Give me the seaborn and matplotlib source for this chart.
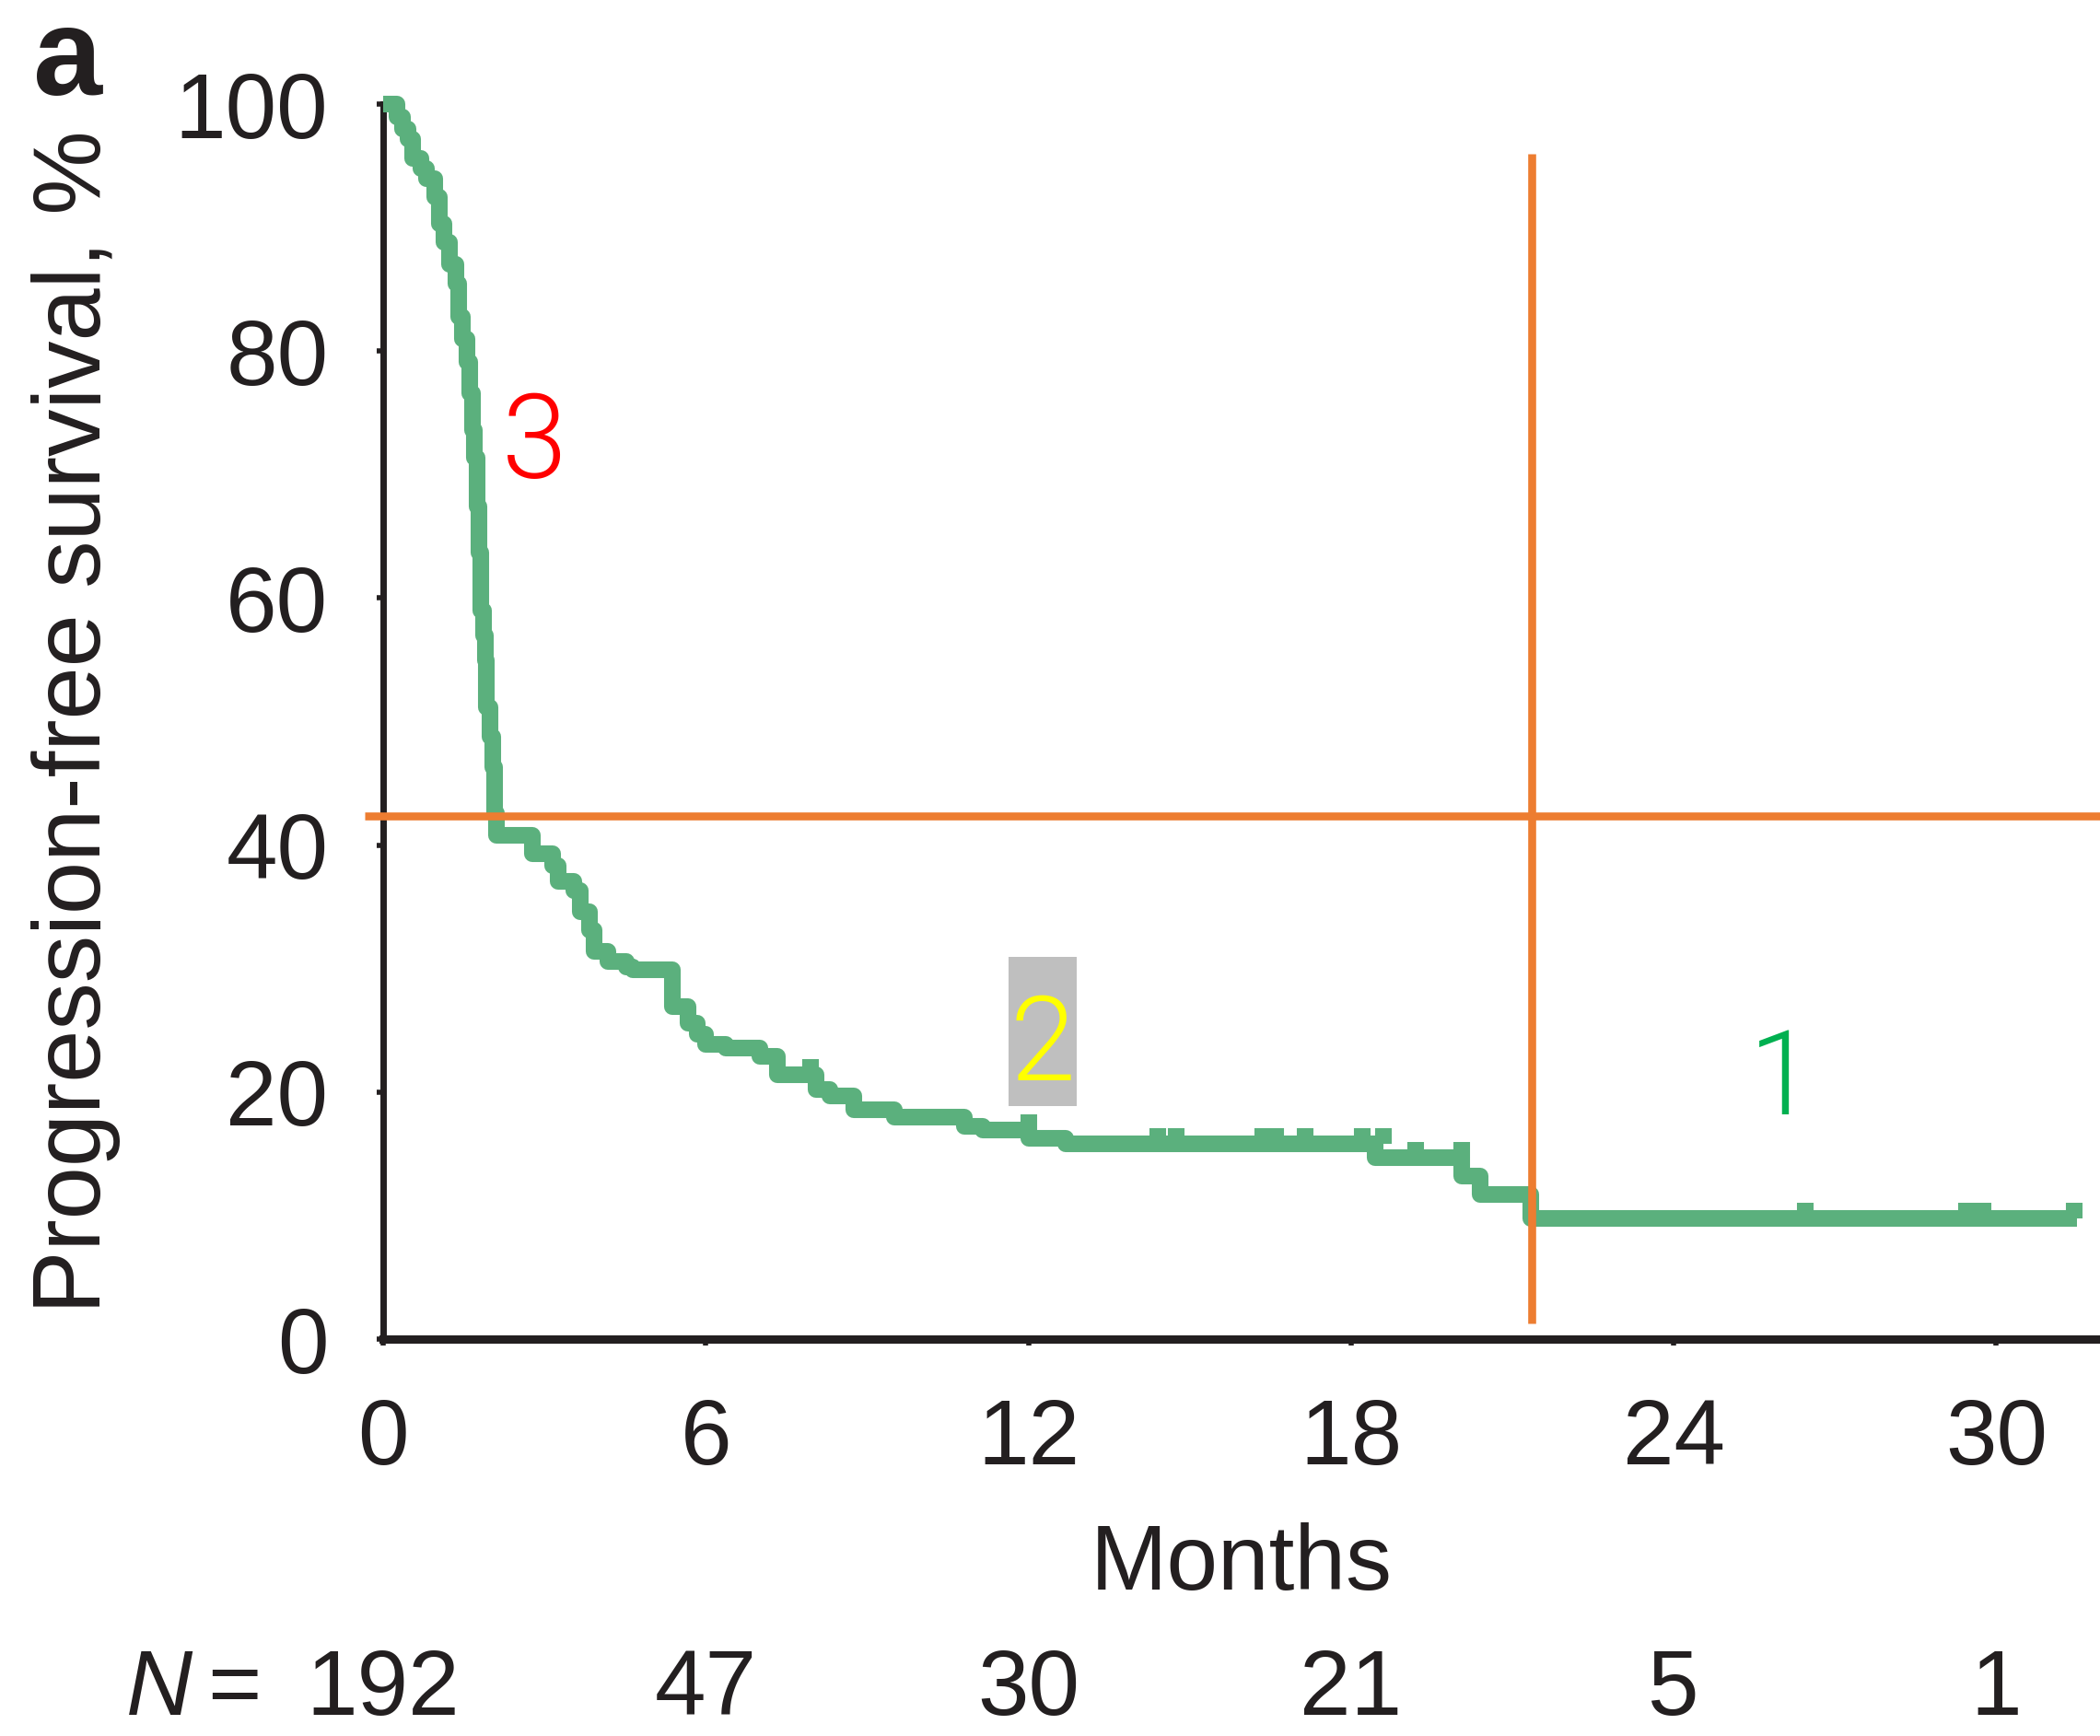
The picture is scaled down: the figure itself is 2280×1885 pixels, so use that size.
import matplotlib
matplotlib.use("Agg")
import matplotlib.pyplot as plt
from matplotlib.patches import Rectangle
from matplotlib import font_manager
import numpy as np
import pandas as pd
import seaborn as sns

# ---------------- data ----------------
months = [0, 0.25, 0.35, 0.46, 0.55, 0.70, 0.81, 0.96, 1.04, 1.13, 1.23, 1.35, 1.40,
          1.47, 1.56, 1.61, 1.66, 1.70, 1.75, 1.78, 1.81, 1.86, 1.90, 1.92, 1.99,
          2.04, 2.07, 2.10, 2.78, 3.15, 3.25, 3.55, 3.67, 3.84, 3.92, 4.18, 4.52,
          4.64, 5.38, 5.66, 5.84, 6.00, 6.37, 7.00, 7.33, 8.05, 8.30, 8.75, 9.50,
          10.80, 11.15, 12.00, 12.70, 18.45, 20.06, 20.40, 21.35, 31.50]
pfs = [100, 99, 98, 97.2, 95.6, 94.8, 94.0, 92.5, 90.3, 88.8, 87.0, 85.5, 82.8,
       81.0, 79.1, 76.6, 73.6, 71.4, 67.4, 63.7, 59.0, 57.0, 55.0, 51.2, 48.8,
       46.3, 42.6, 40.8, 39.3, 38.3, 37.1, 36.3, 34.6, 33.1, 31.4, 30.6, 30.1,
       29.9, 26.9, 25.6, 24.7, 23.9, 23.6, 22.9, 21.4, 20.2, 19.7, 18.6, 18.0,
       17.2, 16.9, 16.3, 15.8, 14.7, 13.2, 11.7, 9.8, 9.8]
censor_months = [7.95, 12.0, 14.4, 14.75, 16.35, 16.6, 17.15, 18.2, 18.6, 19.2,
                 20.05, 26.45, 29.45, 29.75, 31.45]
censor_pfs = [21.4, 16.9, 15.8, 15.8, 15.8, 15.8, 15.8, 15.8, 15.8, 14.7,
              14.7, 9.8, 9.8, 9.8, 9.8]

x_ticks = [0, 6, 12, 18, 24, 30]
y_ticks = [0, 20, 40, 60, 80, 100]
n_at_risk = [192, 47, 30, 21, 5, 1]

ref_h_value = 42.4
ref_h_span = [-0.35, 31.95]
ref_v_value = 21.36
ref_v_span = [1.3, 96.0]

annot_labels = ["3", "2", "1"]
annot_x = [2.81, 12.27, 26.0]
annot_y = [69.7, 20.95, 18.2]
annot_colors = ["#FF0000", "#FFFF00", "#00B050"]
box2_x = [11.63, 12.90]
box2_y = [18.87, 30.95]

# ---------------- style ----------------
sns.set_style("ticks")
plt.rcParams["font.family"] = ["Liberation Sans", "DejaVu Sans"]
INK = "#231F20"
GREEN = "#5BB07D"
ORANGE = "#ED7D31"


def find_annot_font():
    cands = []
    for f in font_manager.fontManager.ttflist:
        w = f.weight if isinstance(f.weight, int) else 400
        if f.name == "Roboto" and f.style == "normal":
            cands.append((abs(w - 300), f.fname))
    if cands:
        cands.sort()
        return font_manager.FontProperties(fname=cands[0][1])
    return font_manager.FontProperties(family=["Open Sans", "DejaVu Sans"])


annot_fp = find_annot_font()

fig = plt.figure(figsize=(22.8, 18.85), dpi=100)
ax = fig.add_axes([0.1825, 0.2286, 0.8175, 0.7114])

df = pd.DataFrame({"Months": months, "PFS": pfs})
sns.lineplot(data=df, x="Months", y="PFS", ax=ax, estimator=None, sort=False,
             drawstyle="steps-post", color=GREEN, linewidth=13,
             solid_capstyle="butt", clip_on=False, zorder=3)
ax.plot(censor_months, censor_pfs, linestyle="none", marker=2, markersize=12,
        markeredgewidth=13, color=GREEN, clip_on=False, zorder=3)

# reference lines
ax.plot(ref_h_span, [ref_h_value, ref_h_value], color=ORANGE, linewidth=6.2,
        solid_capstyle="butt", clip_on=False, zorder=5)
ax.plot([ref_v_value, ref_v_value], ref_v_span, color=ORANGE, linewidth=6.2,
        solid_capstyle="butt", clip_on=False, zorder=5)

ax.set_xlim(0, 31.93)
ax.set_ylim(0, 100)
ax.set_xticks(x_ticks)
ax.set_yticks(y_ticks)
ax.set_xticklabels([str(t) for t in x_ticks])
ax.set_yticklabels([str(t) for t in y_ticks])
sns.despine(ax=ax)
ax.spines["left"].set_linewidth(5)
ax.spines["bottom"].set_linewidth(6.5)
ax.spines["left"].set_color(INK)
ax.spines["bottom"].set_color(INK)
ax.tick_params(axis="both", direction="out", length=5, width=4, colors=INK,
               labelsize=72, labelcolor=INK)
ax.tick_params(axis="y", pad=38)
ax.tick_params(axis="x", pad=40)

ax.set_ylabel("Progression-free survival, %", fontsize=74, color=INK)
ax.yaxis.set_label_coords(-0.153, 0.5)
ax.set_xlabel("Months", fontsize=72, color=INK)
ax.xaxis.set_label_coords(0.5, -0.148)

# numbers at risk
trans = ax.get_xaxis_transform()
y_row = -0.3045
ax.text(-2.28, y_row, "=", transform=trans, ha="right", va="baseline",
        fontsize=72, color=INK)
ax.text(-3.55, y_row, "N", transform=trans, ha="right", va="baseline",
        fontsize=72, style="italic", color=INK)
for t, n in zip(x_ticks, n_at_risk):
    ax.text(t, y_row, str(n), transform=trans, ha="center", va="baseline",
            fontsize=72, color=INK)

# annotations
ax.add_patch(Rectangle((box2_x[0], box2_y[0]), box2_x[1] - box2_x[0],
                       box2_y[1] - box2_y[0], facecolor="#BFBFBF",
                       edgecolor="none", zorder=4))
for lab, x, y, c in zip(annot_labels, annot_x, annot_y, annot_colors):
    ax.text(x, y, lab, color=c, fontproperties=annot_fp, fontsize=92,
            ha="center", va="baseline", zorder=6)

fig.text(36 / 2280, 1 - 103 / 1885, "a", fontsize=97, fontweight="bold",
         ha="left", va="baseline", color=INK)

fig.savefig("out.png", dpi=100)
